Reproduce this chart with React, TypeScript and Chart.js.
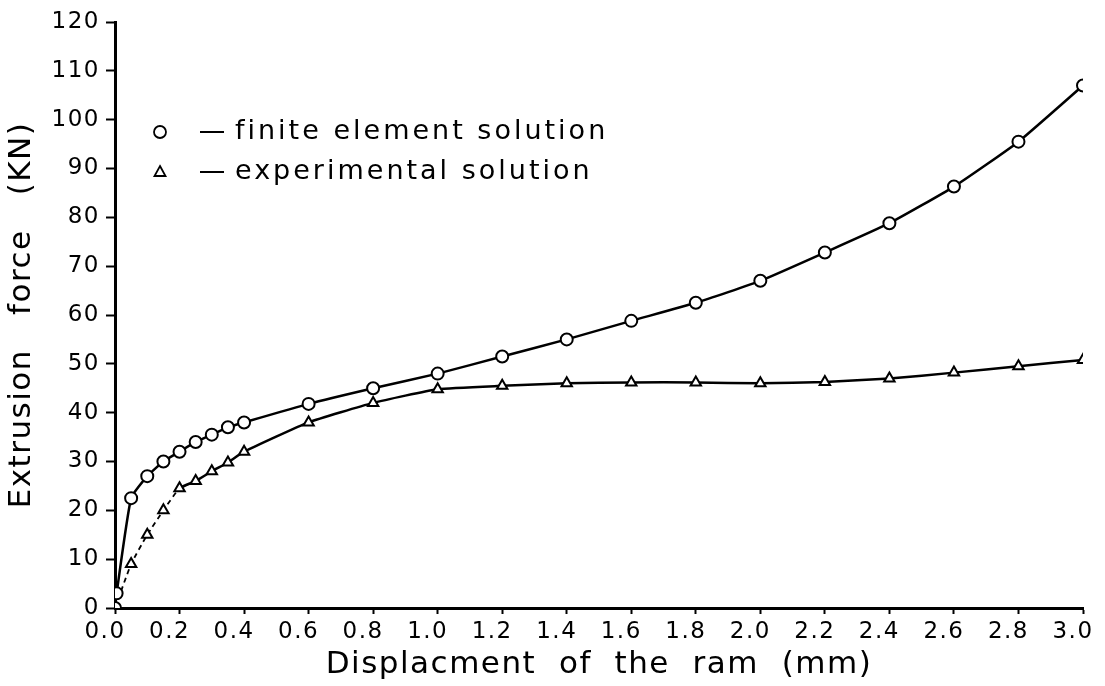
import React, { useEffect, useRef } from "react";
import { Chart, registerables } from "chart.js";

Chart.register(...registerables);

const feX = [0, 0.005, 0.05, 0.1, 0.15, 0.2, 0.25, 0.3, 0.35, 0.4, 0.6, 0.8, 1.0, 1.2, 1.4, 1.6, 1.8, 2.0, 2.2, 2.4, 2.6, 2.8, 3.0];
const feY = [0, 3, 22.5, 27, 30, 32, 34, 35.5, 37, 38, 41.8, 45, 48, 51.5, 55, 58.8, 62.5, 67, 72.8, 78.8, 86.3, 95.5, 107];

const expX = [0, 0.05, 0.1, 0.15, 0.2, 0.25, 0.3, 0.35, 0.4, 0.6, 0.8, 1.0, 1.2, 1.4, 1.6, 1.8, 2.0, 2.2, 2.4, 2.6, 2.8, 3.0];
const expY = [0, 9, 15, 20, 24.5, 26, 28, 29.8, 32, 38, 42, 44.8, 45.5, 46, 46.2, 46.2, 46, 46.3, 47, 48.2, 49.5, 50.8];

const legendLabels = ["finite element solution", "experimental solution"];
const xTitle = "Displacment  of  the  ram  (mm)";
const yTitle = "Extrusion   force   (KN)";

const FONT = "'DejaVu Sans', sans-serif";

const spacingPlugin = {
  id: "spacing",
  beforeUpdate(chart: any) {
    chart.ctx.letterSpacing = "1.5px";
  },
  beforeDraw(chart: any) {
    chart.ctx.letterSpacing = "1.5px";
  },
};

const legendPlugin = {
  id: "customLegend",
  afterDraw(chart: any) {
    const ctx = chart.ctx;
    const area = chart.chartArea;
    const x0 = area.left + 45;
    const rows = [area.top + 110, area.top + 150];
    ctx.save();
    ctx.letterSpacing = "3px";
    ctx.fillStyle = "#000";
    ctx.strokeStyle = "#000";
    ctx.textBaseline = "middle";
    ctx.font = `27px ${FONT}`;
    rows.forEach((y: number, i: number) => {
      ctx.lineWidth = 1.8;
      ctx.beginPath();
      if (i === 0) {
        ctx.arc(x0, y, 6, 0, Math.PI * 2);
      } else {
        ctx.moveTo(x0, y - 6);
        ctx.lineTo(x0 + 5.5, y + 4);
        ctx.lineTo(x0 - 5.5, y + 4);
        ctx.closePath();
      }
      ctx.stroke();
      ctx.lineWidth = 2;
      ctx.beginPath();
      ctx.moveTo(x0 + 40, y);
      ctx.lineTo(x0 + 64, y);
      ctx.stroke();
      ctx.fillText(legendLabels[i], x0 + 75, y);
    });
    ctx.restore();
  },
};

export default function App() {
  const ref = useRef<HTMLCanvasElement>(null);
  useEffect(() => {
    if (!ref.current) return;
    const chart = new Chart(ref.current, {
      type: "line",
      data: {
        datasets: [
          {
            label: "finite element solution",
            data: feX.map((x, i) => ({ x, y: feY[i] })),
            borderColor: "#000",
            borderWidth: 2.5,
            pointStyle: "circle",
            pointRadius: 6,
            pointBorderWidth: 2,
            pointBackgroundColor: "#fff",
            pointBorderColor: "#000",
            tension: 0.15,
          },
          {
            label: "experimental solution",
            data: expX.map((x, i) => ({ x, y: expY[i] })),
            borderColor: "#000",
            borderWidth: 2.5,
            pointStyle: "triangle",
            pointRadius: 6,
            pointBorderWidth: 2,
            pointBackgroundColor: "#fff",
            pointBorderColor: "#000",
            tension: 0.15,
            segment: {
              borderDash: (c: any) => (c.p0DataIndex < 4 ? [5, 4] : undefined),
              borderWidth: (c: any) => (c.p0DataIndex < 4 ? 1.8 : 2.5),
            },
          },
        ],
      },
      options: {
        animation: false,
        responsive: false,
        layout: { padding: { top: 22, right: 22, left: 0, bottom: 0 } },
        plugins: { legend: { display: false }, tooltip: { enabled: false } },
        scales: {
          x: {
            type: "linear",
            min: 0,
            max: 3,
            afterFit: (s: any) => {
              s.height = 78;
              s.paddingLeft = 0;
              s.paddingRight = 0;
            },
            border: { display: true, color: "#000", width: 3 },
            grid: { drawOnChartArea: false, drawTicks: true, tickLength: 6, tickColor: "#000", tickWidth: 2 },
            ticks: {
              stepSize: 0.2,
              color: "#000",
              font: { family: FONT, size: 23 },
              padding: 4,
              labelOffset: -10,
              maxRotation: 0,
              autoSkip: false,
              callback: (v: any) => Number(v).toFixed(1),
            },
            title: {
              display: true,
              text: xTitle,
              color: "#000",
              font: { family: FONT, size: 31 },
              padding: { top: 0, bottom: 2 },
            },
          },
          y: {
            type: "linear",
            min: 0,
            max: 120,
            afterFit: (s: any) => {
              s.width = 115;
              s.paddingTop = 0;
              s.paddingBottom = 0;
            },
            border: { display: true, color: "#000", width: 3 },
            grid: { drawOnChartArea: false, drawTicks: true, tickLength: 9, tickColor: "#000", tickWidth: 2 },
            ticks: {
              stepSize: 10,
              color: "#000",
              font: { family: FONT, size: 23 },
              padding: 6,
            },
            title: {
              display: true,
              text: yTitle,
              color: "#000",
              font: { family: FONT, size: 31 },
              padding: { top: 3, bottom: 0 },
            },
          },
        },
      },
      plugins: [spacingPlugin, legendPlugin],
    });
    return () => chart.destroy();
  }, []);
  return (
    <div style={{ position: "absolute", left: 0, top: 0, width: 1105, height: 686, background: "#fff" }}>
      <canvas ref={ref} width={1105} height={686} />
    </div>
  );
}
